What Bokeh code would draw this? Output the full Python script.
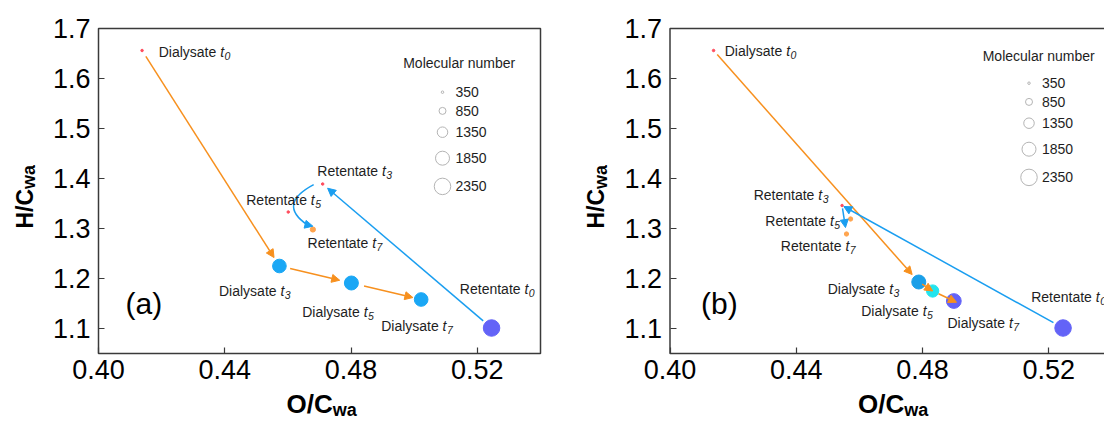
import numpy as np
from bokeh.plotting import figure
from bokeh.layouts import row
from bokeh.models import (Range1d, FixedTicker, PrintfTickFormatter, Arrow,
                          NormalHead, ColumnDataSource)
from bokeh.core.properties import value
from bokeh.embed import file_html
from bokeh.resources import INLINE

# ---------------- data ----------------
kinds = ["Dialysate", "Dialysate", "Dialysate", "Dialysate",
         "Retentate", "Retentate", "Retentate", "Retentate"]
times = ["0", "3", "5", "7", "0", "3", "5", "7"]

# panel (a)
a_oc = [0.4138, 0.4573, 0.4801, 0.5022, 0.5245, 0.4710, 0.4601, 0.4679]
a_hc = [1.656, 1.225, 1.191, 1.158, 1.101, 1.389, 1.333, 1.298]
a_mn = [350, 1800, 1850, 1800, 2350, 350, 350, 650]
# panel (b)
b_oc = [0.4138, 0.4788, 0.4832, 0.4899, 0.5245, 0.4545, 0.4572, 0.4559]
b_hc = [1.656, 1.193, 1.175, 1.155, 1.101, 1.346, 1.319, 1.289]
b_mn = [350, 1850, 1600, 2000, 2350, 350, 550, 550]

legend_values = [350, 850, 1350, 1850, 2350]
x_ticks = [0.40, 0.44, 0.48, 0.52]
y_ticks = [1.1, 1.2, 1.3, 1.4, 1.5, 1.6, 1.7]

# ---------------- style ----------------
FONT = "Liberation Sans"
TXT = "#1e1e1e"
AX = "#3a3a3a"
ORANGE = "#f7901e"
BLUE = "#1a9ef0"
RED = "#ff4d5e"
ORG = "#ffa54f"
legend_diam = [2.5, 7, 10.5, 14, 16.5]

a_colors = [RED, "#1aa7f5", "#1aa7f5", "#1aa7f5", "#6363f7", RED, RED, ORG]
b_colors = [RED, "#1a9fe8", "#22e4ee", "#6363f7", "#6363f7", RED, ORG, ORG]

X0, X1, Y0, Y1 = 0.40, 0.54, 1.05, 1.70
FW, FH = 442, 325
TOP, BOTTOM = 28, 68
KX = FW / (X1 - X0)
KY = FH / (Y1 - Y0)


def to_px(x, y):
    return (x - X0) * KX, (Y1 - y) * KY


def to_data(px, py):
    return X0 + px / KX, Y1 - py / KY


NORMAL = {"D": 722, "i": 222, "a": 556, "l": 222, "y": 500, "s": 500, "t": 278,
          "e": 556, "R": 722, "n": 556, " ": 278}
BOLD = {"O": 778, "/": 278, "C": 722, "H": 722}


def tw(s, size, table):
    return sum(table[c] for c in s) * size / 1000.0


def add_point_label(p, x, y, word, sub, dx, dy):
    common = dict(text_font=value(FONT), text_color=TXT, text_baseline="middle",
                  text_align="left")
    p.text(x=[x], y=[y], text=[word], x_offset=dx, y_offset=dy,
           text_font_size="14px", **common)
    w = tw(word + " ", 14, NORMAL)
    p.text(x=[x], y=[y], text=["t"], x_offset=dx + w, y_offset=dy,
           text_font_size="14px", text_font_style="italic", **common)
    w2 = w + tw("t", 14, NORMAL) + 0.5
    p.text(x=[x], y=[y], text=[sub], x_offset=dx + w2, y_offset=dy + 4,
           text_font_size="10.5px", text_font_style="italic", **common)


def add_arrow(p, pa, pb, color, s0, s1, line=True):
    (ax_, ay_), (bx_, by_) = pa, pb
    d = np.hypot(bx_ - ax_, by_ - ay_)
    ux, uy = (bx_ - ax_) / d, (by_ - ay_) / d
    sx, sy = ax_ + ux * s0, ay_ + uy * s0
    ex, ey = bx_ - ux * s1, by_ - uy * s1
    xs, ys = to_data(sx, sy)
    xe, ye = to_data(ex, ey)
    p.add_layout(Arrow(x_start=xs, y_start=ys, x_end=xe, y_end=ye,
                       line_color=color, line_width=1.5, line_alpha=1.0 if line else 0.0,
                       end=NormalHead(size=8, fill_color=color, line_color=color,
                                      line_width=1)))


def make_panel(tag, oc, hc, mn, colors, fig_w, frame_left, text_off,
               arrow_specs, curve, leg_anchor, leg_title_off, tag_pos):
    # the whole canvas is the frame; axes are pinned at the data box edges
    x_start = X0 - frame_left / KX
    x_end = x_start + fig_w / KX
    y_end = Y1 + TOP / KY
    y_start = Y0 - BOTTOM / KY
    p = figure(width=fig_w, height=421, x_range=Range1d(x_start, x_end),
               y_range=Range1d(y_start, y_end), output_backend="svg",
               toolbar_location=None, min_border=0, min_border_left=0,
               min_border_right=0, min_border_top=0, min_border_bottom=0)
    p.grid.visible = False
    p.outline_line_color = None

    xa, ya = p.xaxis[0], p.yaxis[0]
    xa.fixed_location = Y0
    ya.fixed_location = X0
    xa.bounds = (X0, X1)
    ya.bounds = (Y0, Y1)
    xa.ticker = FixedTicker(ticks=x_ticks)
    ya.ticker = FixedTicker(ticks=y_ticks)
    xa.formatter = PrintfTickFormatter(format="%.2f")
    ya.formatter = PrintfTickFormatter(format="%.1f")
    for ax in (xa, ya):
        ax.major_tick_in = 6
        ax.major_tick_out = 0
        ax.minor_tick_line_color = None
        ax.axis_line_color = None
        ax.major_tick_line_color = AX
        ax.major_tick_line_width = 1.2
        ax.major_label_text_font = FONT
        ax.major_label_text_font_size = "27px"
        ax.major_label_text_color = "#000000"
    xa.major_label_standoff = 6
    ya.major_label_standoff = 8

    # plot box
    p.quad(left=[X0], right=[X1], bottom=[Y0], top=[Y1], fill_color=None,
           line_color=AX, line_width=1.5)

    # markers
    diam = np.interp(mn, legend_values, legend_diam)
    src = ColumnDataSource(dict(x=oc, y=hc, size=diam, color=colors))
    p.scatter("x", "y", size="size", fill_color="color", line_color="color", source=src)

    pts = [to_px(x, y) for x, y in zip(oc, hc)]

    # arrows
    for i, j, color, s0, s1 in arrow_specs:
        add_arrow(p, pts[i], pts[j], color, s0, s1)

    if curve is not None:
        i, j, o0, o2, bulge, tip = curve
        P0 = (pts[i][0] + o0[0], pts[i][1] + o0[1])
        P2 = (pts[j][0] + o2[0], pts[j][1] + o2[1])
        C = ((P0[0] + P2[0]) / 2 + bulge[0], (P0[1] + P2[1]) / 2 + bulge[1])
        x0, y0 = to_data(*P0)
        x1, y1 = to_data(*P2)
        cx, cy = to_data(*C)
        p.quadratic(x0=[x0], y0=[y0], x1=[x1], y1=[y1], cx=[cx], cy=[cy],
                    line_color=BLUE, line_width=1.5)
        T = (pts[j][0] + tip[0], pts[j][1] + tip[1])
        add_arrow(p, P2, T, BLUE, -2, 0, line=False)

    # point labels
    for k in range(len(oc)):
        dx, dy = text_off[k]
        add_point_label(p, oc[k], hc[k], kinds[k], times[k], dx, dy)

    # size legend
    lx, ly = leg_anchor
    offs = [0, 18.7, 40, 66, 94.2]
    lpx = [to_data(lx, ly + o) for o in offs]
    p.scatter([q[0] for q in lpx], [q[1] for q in lpx], size=legend_diam,
              fill_color=None, line_color="#b4b4b4", line_width=1)
    p.text(x=[q[0] for q in lpx], y=[q[1] for q in lpx], text=[str(v) for v in legend_values],
           x_offset=13, text_font=value(FONT), text_font_size="14px", text_color=TXT,
           text_baseline="middle")
    tx, ty = to_data(lx + leg_title_off[0], ly + leg_title_off[1])
    p.text(x=[tx], y=[ty], text=["Molecular number"], text_font=value(FONT),
           text_font_size="14px", text_color=TXT, text_baseline="middle")

    # panel tag
    gx, gy = to_data(*tag_pos)
    p.text(x=[gx], y=[gy], text=[tag], text_font=value(FONT), text_font_size="30px",
           text_color="#000000", text_baseline="middle")

    # axis titles (main part + subscript)
    lab = dict(text_font=value(FONT), text_font_style="bold", text_color="#000000",
               text_baseline="middle", text_align="left")
    yx, yy = to_data(-74, 200)
    p.text(x=[yx], y=[yy], text=["H/C"], angle=np.pi / 2, text_font_size="23px", **lab)
    sx, sy = to_data(-69.5, 200 - tw("H/C", 23, BOLD))
    p.text(x=[sx], y=[sy], text=["wa"], angle=np.pi / 2, text_font_size="18px", **lab)
    xx, xy = to_data(188, 375)
    p.text(x=[xx], y=[xy], text=["O/C"], text_font_size="26px", **lab)
    wx, wy = to_data(188 + tw("O/C", 26, BOLD), 381)
    p.text(x=[wx], y=[wy], text=["wa"], text_font_size="18px", **lab)
    return p


a_text = [(16.6, 1.7), (-60.4, 25), (-49.2, 29), (-40, 26.7),
          (-31.7, -39), (-5.3, -12.6), (-42, -11.7), (-5.3, 13)]
b_text = [(11.1, 0), (-91.1, 6.6), (-71.5, 20), (-6.4, 22),
          (-31.9, -31), (-88.4, -11), (-85.3, 1.7), (-65.7, 11.7)]

a_arrows = [(0, 1, ORANGE, 7, 10), (1, 2, ORANGE, 11, 12), (2, 3, ORANGE, 13, 8.5),
            (4, 5, BLUE, 11, 6.5)]
b_arrows = [(0, 1, ORANGE, 5.5, 10), (1, 2, ORANGE, 4, 0), (2, 3, ORANGE, 6.5, -3),
            (4, 5, BLUE, 11, 2), (5, 7, BLUE, 3, 6.5)]
a_curve = (5, 7, (-9, 0.7), (-5.6, -4.7), (-33.5, -0.5), (0, -3.3))

left = make_panel("(a)", a_oc, a_hc, a_mn, a_colors, 560, 98, a_text,
                  a_arrows, a_curve, (344, 63.7), (-39.3, -29), (27, 275.3))
right = make_panel("(b)", b_oc, b_hc, b_mn, b_colors, 1104 - 560, 109.5, b_text,
                   b_arrows, None, (359, 54.7), (-46.3, -27.7), (31, 275.3))

layout = row(left, right)
open("out.html", "w").write(file_html(layout, INLINE))
